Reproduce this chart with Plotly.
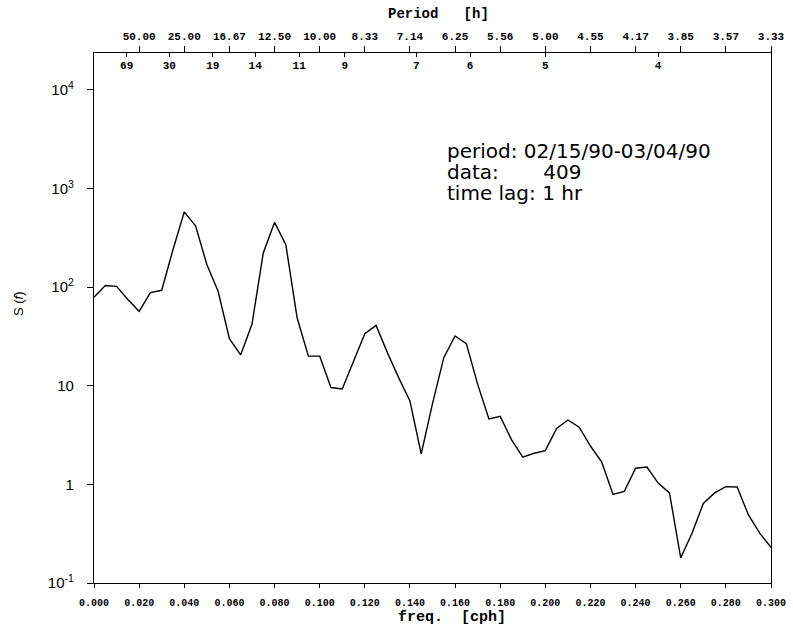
import plotly.graph_objects as go

# ---- data ----
freq = [0.000, 0.005, 0.010, 0.015, 0.020, 0.025, 0.030, 0.035, 0.040, 0.045,
        0.050, 0.055, 0.060, 0.065, 0.070, 0.075, 0.080, 0.085, 0.090, 0.095,
        0.100, 0.105, 0.110, 0.115, 0.120, 0.125, 0.130, 0.135, 0.140, 0.145,
        0.150, 0.155, 0.160, 0.165, 0.170, 0.175, 0.180, 0.185, 0.190, 0.195,
        0.200, 0.205, 0.210, 0.215, 0.220, 0.225, 0.230, 0.235, 0.240, 0.245,
        0.250, 0.255, 0.260, 0.265, 0.270, 0.275, 0.280, 0.285, 0.290, 0.295,
        0.300]
spectrum = [79, 104, 102, 75, 57, 88, 93, 240, 580, 420,
            170, 91, 30, 20.6, 42, 222, 454, 270, 49, 20,
            20, 9.6, 9.3, 18, 33.8, 41, 21.7, 12.1, 7.0, 2.04,
            6.6, 19.3, 32, 26.8, 10.4, 4.6, 4.9, 2.85, 1.89, 2.07,
            2.2, 3.7, 4.5, 3.8, 2.45, 1.68, 0.79, 0.85, 1.46, 1.5,
            1.03, 0.82, 0.18, 0.32, 0.64, 0.82, 0.95, 0.94, 0.49, 0.32,
            0.23]

freq_ticks = [0.00, 0.02, 0.04, 0.06, 0.08, 0.10, 0.12, 0.14, 0.16, 0.18,
              0.20, 0.22, 0.24, 0.26, 0.28, 0.30]
freq_labels = ["0.000", "0.020", "0.040", "0.060", "0.080", "0.100", "0.120",
               "0.140", "0.160", "0.180", "0.200", "0.220", "0.240", "0.260",
               "0.280", "0.300"]

period_ticks = [0.02, 0.04, 0.06, 0.08, 0.10, 0.12, 0.14, 0.16, 0.18,
                0.20, 0.22, 0.24, 0.26, 0.28, 0.30]
period_labels = ["50.00", "25.00", "16.67", "12.50", "10.00", "8.33", "7.14",
                 "6.25", "5.56", "5.00", "4.55", "4.17", "3.85", "3.57", "3.33"]

hour_periods = [69, 30, 19, 14, 11, 9, 7, 6, 5, 4]
hour_labels = ["69", "30", "19", "14", "11", "9", "7", "6", "5", "4"]

y_ticks = [0.1, 1, 10, 100, 1000, 10000]
y_labels = ["10<sup>-1</sup>", "1", "10", "10<sup>2</sup>", "10<sup>3</sup>", "10<sup>4</sup>"]

info_lines = ["period: 02/15/90-03/04/90",
              "data:&nbsp;&nbsp;&nbsp;&nbsp;&nbsp;&nbsp;&nbsp;409",
              "time lag: 1 hr"]

# ---- figure geometry (page pixels) ----
W, H = 793, 628
PL, PR, PT, PB = 94, 771, 53, 583          # plot frame
L, R, T, B = PL, W - PR, PT, H - PB

def px(xp):
    return (xp - L) / (W - L - R)

def py(yp):
    return (H - B - yp) / (H - T - B)

mono = "Liberation Mono"
fig = go.Figure()
fig.add_trace(go.Scatter(x=freq, y=spectrum, mode="lines",
                         line=dict(color="black", width=1.4),
                         showlegend=False, hoverinfo="skip"))
fig.add_trace(go.Scatter(x=[0, 0.3], y=[1, 1], xaxis="x2", mode="markers",
                         marker=dict(opacity=0), showlegend=False, hoverinfo="skip"))
fig.add_trace(go.Scatter(x=[1.0 / p for p in hour_periods], y=[1] * len(hour_periods),
                         xaxis="x3", mode="markers", marker=dict(opacity=0),
                         showlegend=False, hoverinfo="skip"))

fig.update_layout(
    width=W, height=H, autosize=False,
    margin=dict(l=L, r=R, t=T, b=B),
    paper_bgcolor="white", plot_bgcolor="white",
    xaxis=dict(range=[0, 0.3], tickvals=freq_ticks, ticktext=freq_labels,
               automargin=False,
               showline=True, linecolor="black", linewidth=1.3, mirror=True,
               ticks="outside", ticklen=4, tickcolor="black", tickwidth=1.3,
               ticklabelstandoff=6,
               tickfont=dict(family=mono, size=10, color="black", weight="bold"),
               showgrid=False, zeroline=False),
    xaxis2=dict(range=[0, 0.3], overlaying="x", side="top", anchor="y",
                automargin=False,
                tickvals=period_ticks, ticktext=period_labels,
                showline=True, linecolor="black", linewidth=1.3,
                ticks="outside", ticklen=6, tickcolor="black", tickwidth=1.3,
                ticklabelstandoff=1,
                tickfont=dict(family=mono, size=11, color="black", weight="bold"),
                showgrid=False, zeroline=False),
    xaxis3=dict(range=[0, 0.3], overlaying="x", side="top", anchor="y",
                automargin=False,
                tickvals=[1.0 / p for p in hour_periods], ticktext=hour_labels,
                showline=False, ticks="inside", ticklen=4, tickcolor="black",
                tickwidth=1.3, ticklabelposition="inside", ticklabelstandoff=4,
                tickfont=dict(family=mono, size=11, color="black", weight="bold"),
                showgrid=False, zeroline=False),
    yaxis=dict(type="log", range=[-1, 4.375], tickvals=y_ticks, ticktext=y_labels,
               automargin=False,
               showline=True, linecolor="black", linewidth=1.3, mirror=True,
               ticks="outside", ticklen=6, tickcolor="black", tickwidth=1.3,
               ticklabelstandoff=10,
               tickfont=dict(family="Liberation Sans", size=15, color="black"),
               showgrid=False, zeroline=False),
)

info_text = "<br>".join('<span style="font-size:20px">%s</span>' % s for s in info_lines)
fig.add_annotation(x=px(445), y=py(171.5), xref="paper", yref="paper", text=info_text,
                   showarrow=False, xanchor="left", yanchor="middle", align="left",
                   font=dict(family="DejaVu Sans", size=16, color="black"))

fig.add_annotation(x=px(438), y=py(14), xref="paper", yref="paper", text="Period&nbsp;&nbsp;&nbsp;[h]",
                   showarrow=False, xanchor="center", yanchor="middle",
                   font=dict(family=mono, size=14, color="black", weight="bold"))
fig.add_annotation(x=px(452), y=py(617), xref="paper", yref="paper", text="freq.&nbsp;&nbsp;[cph]",
                   showarrow=False, xanchor="center", yanchor="middle",
                   font=dict(family=mono, size=15, color="black", weight="bold"))
fig.add_annotation(x=px(18), y=py(304), xref="paper", yref="paper", text="S (<i>f</i>)",
                   showarrow=False, xanchor="center", yanchor="middle", textangle=-90,
                   font=dict(family="Liberation Sans", size=13, color="black"))

fig.write_html("out.html", config={"displayModeBar": False},
               post_script="document.body.style.margin='0';")
